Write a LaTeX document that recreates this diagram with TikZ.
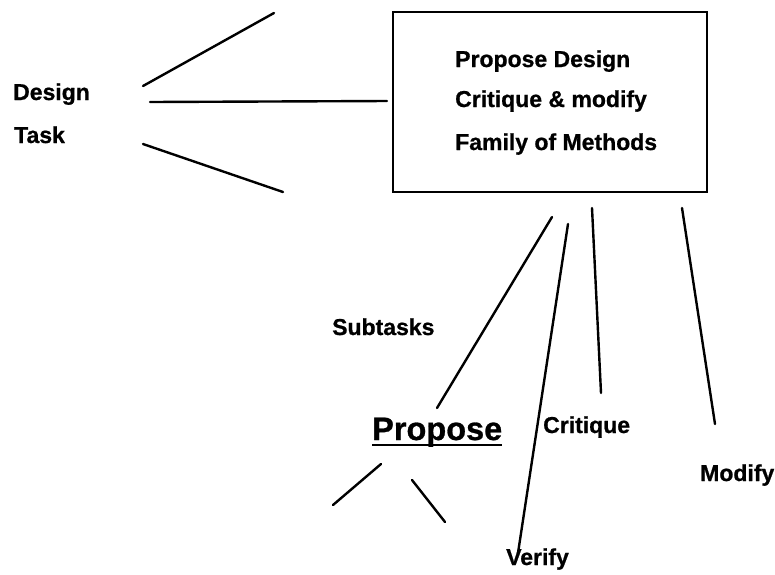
\documentclass[tikz,border=0pt]{standalone}
\usepackage{fontspec}
\setmainfont{Liberation Sans}[BoldFeatures={FakeBold=0.8}]
\begin{document}
\begin{tikzpicture}[x=1pt,y=-1pt,
  lbl/.style={anchor=base west,inner sep=0pt,font=\fontsize{23}{27}\selectfont\bfseries},
  biglbl/.style={anchor=base west,inner sep=0pt,font=\fontsize{32.5}{38}\selectfont\bfseries},
  link/.style={line width=2.4pt,line cap=round},
  frame/.style={draw,line width=1.8pt}]
\useasboundingbox (0,0) rectangle (775,574);

% design task and the methods box
\node[lbl] (design) at (13,100) {Design};
\node[lbl] (task) at (14,143) {Task};
\draw[frame] (393,12) rectangle (707,192);
\node[lbl] (m1) at (455,67) {Propose Design};
\node[lbl] (m2) at (455,107) {Critique \& modify};
\node[lbl] (m3) at (455,150) {Family of Methods};

% subtask labels
\node[lbl] (sub) at (332,335) {Subtasks};
\node[biglbl] (prop) at (372,440) {Propose};
\draw[line width=2pt] ([yshift=-5pt]prop.base west) -- ([yshift=-5pt]prop.base east);
\node[lbl] (crit) at (543,433) {Critique};
\node[lbl] (modi) at (700,481) {Modify};
\node[lbl] (veri) at (506,565) {Verify};

% line end points
\coordinate (a1) at (143,86);  \coordinate (a2) at (274,13);
\coordinate (b1) at (150,102); \coordinate (b2) at (387,101);
\coordinate (c1) at (143,144); \coordinate (c2) at (283,192);
\coordinate (p1) at (552,217); \coordinate (p2) at (437,408);
\coordinate (v1) at (568,224); \coordinate (v2) at (518,553);
\coordinate (k1) at (592,208); \coordinate (k2) at (601,393);
\coordinate (d1) at (682,208); \coordinate (d2) at (715,424);
\coordinate (l1) at (381,464); \coordinate (l2) at (333,505);
\coordinate (r1) at (412,480); \coordinate (r2) at (445,522);

\draw[link] (a1) -- (a2);
\draw[link] (b1) -- (b2);
\draw[link] (c1) -- (c2);
\draw[link] (p1) -- (p2);
\draw[link] (v1) -- (v2);
\draw[link] (k1) -- (k2);
\draw[link] (d1) -- (d2);
\draw[link] (l1) -- (l2);
\draw[link] (r1) -- (r2);
\end{tikzpicture}
\end{document}
